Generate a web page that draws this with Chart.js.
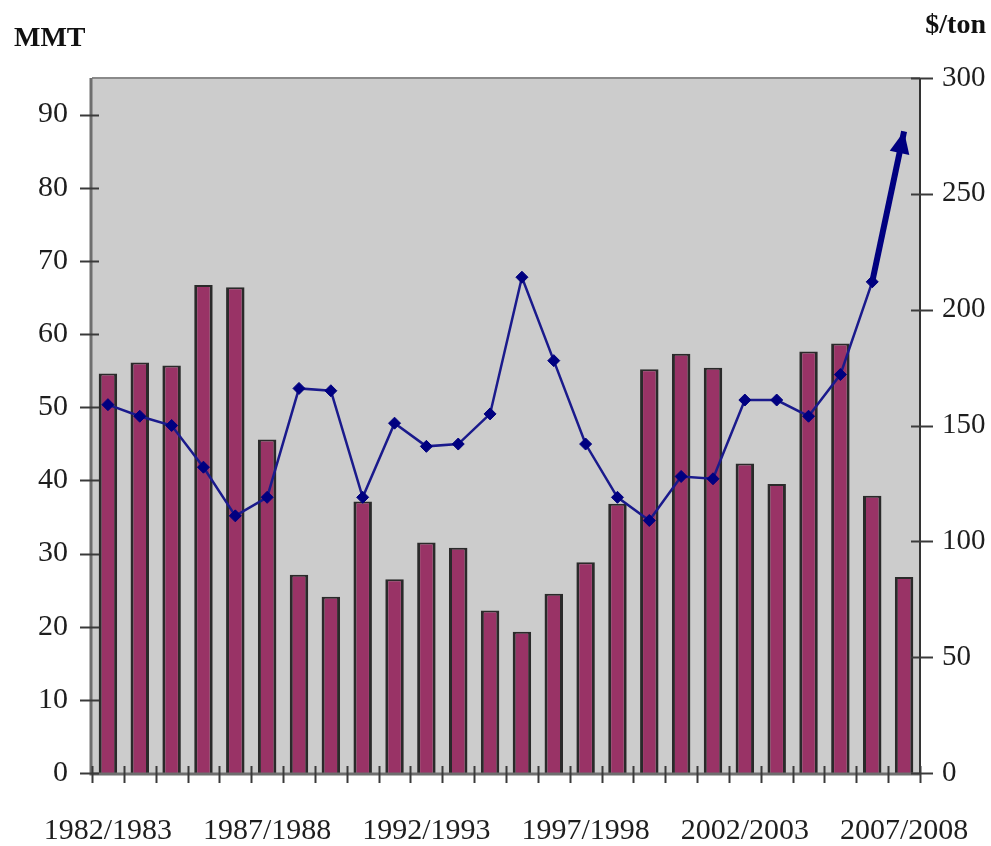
<!DOCTYPE html>
<html>
<head>
<meta charset="utf-8">
<script src="https://cdn.jsdelivr.net/npm/chart.js@4/dist/chart.umd.min.js"></script>
<style>
  html, body { margin: 0; padding: 0; background: #ffffff; }
  #wrap { width: 991px; height: 846px; position: relative; }
</style>
</head>
<body>
<div id="wrap"><canvas id="c" width="991" height="846"></canvas></div>
<script>
// Marketing seasons
const seasons = [
  '1982/1983', '1983/1984', '1984/1985', '1985/1986', '1986/1987',
  '1987/1988', '1988/1989', '1989/1990', '1990/1991', '1991/1992',
  '1992/1993', '1993/1994', '1994/1995', '1995/1996', '1996/1997',
  '1997/1998', '1998/1999', '1999/2000', '2000/2001', '2001/2002',
  '2002/2003', '2003/2004', '2004/2005', '2005/2006', '2006/2007',
  '2007/2008'
];

// Volume, million metric tons (left axis)
const volumeMMT = [
  54.6, 56.1, 55.7, 66.7, 66.4,
  45.6, 27.1, 24.1, 37.1, 26.5,
  31.5, 30.8, 22.2, 19.3, 24.5,
  28.8, 36.8, 55.2, 57.3, 55.4,
  42.3, 39.5, 57.6, 58.7, 37.9,
  26.8
];

// Price, $/ton (right axis)
const priceUSD = [
  159, 154, 150, 132, 111,
  119, 166, 165, 119, 151,
  141, 142, 155, 214, 178,
  142, 119, 109, 128, 127,
  161, 161, 154, 172, 212,
  277
];

// Seasons that carry a label on the category axis
const labelledSeasons = ['1982/1983', '1987/1988', '1992/1993', '1997/1998', '2002/2003', '2007/2008'];

const leftTitle = 'MMT';
const rightTitle = '$/ton';

const tickFont = { family: '"Liberation Serif", "Times New Roman", serif', size: 30 };
const tickColor = '#1e1e1e';
const navy = '#000080';
const lastIdx = priceUSD.length - 1;

// Grey plot background with Excel-style frame
const plotFrame = {
  id: 'plotFrame',
  beforeDatasetsDraw(chart) {
    const { ctx, chartArea: a } = chart;
    ctx.save();
    ctx.fillStyle = '#cccccc';
    ctx.fillRect(a.left, a.top, a.right - a.left, a.bottom - a.top);
    ctx.strokeStyle = '#8a8a8a';
    ctx.lineWidth = 2;
    ctx.beginPath();
    ctx.moveTo(a.left, a.top);
    ctx.lineTo(a.right, a.top);
    ctx.stroke();
    ctx.restore();
  },
  afterDatasetsDraw(chart) {
    const { ctx, chartArea: a, scales } = chart;
    ctx.save();
    // axis lines
    ctx.lineWidth = 3;
    ctx.strokeStyle = '#6e6e6e';
    ctx.beginPath();
    ctx.moveTo(a.left - 1, a.top);
    ctx.lineTo(a.left - 1, a.bottom + 1);
    ctx.lineTo(a.right, a.bottom + 1);
    ctx.stroke();
    ctx.lineWidth = 2;
    ctx.strokeStyle = '#333333';
    ctx.beginPath();
    ctx.moveTo(a.right, a.top);
    ctx.lineTo(a.right, a.bottom + 1);
    ctx.stroke();

    // cross tick marks on value axes
    ctx.lineWidth = 2;
    ctx.strokeStyle = '#3a3a3a';
    const yl = scales.yMmt;
    yl.ticks.forEach(t => {
      const y = Math.round(yl.getPixelForValue(t.value)) + 0.5;
      ctx.beginPath();
      ctx.moveTo(a.left - 12, y);
      ctx.lineTo(a.left + 7, y);
      ctx.stroke();
    });
    const yr = scales.yPrice;
    yr.ticks.forEach(t => {
      const y = Math.round(yr.getPixelForValue(t.value)) + 0.5;
      ctx.beginPath();
      ctx.moveTo(a.right - 9, y);
      ctx.lineTo(a.right + 13, y);
      ctx.stroke();
    });

    // cross tick marks at category boundaries
    const x = scales.x;
    const n = seasons.length;
    const step = x.getPixelForValue(1) - x.getPixelForValue(0);
    for (let i = 0; i <= n; i++) {
      const px = Math.round(x.getPixelForValue(0) - step / 2 + i * step) + 0.5;
      ctx.beginPath();
      ctx.moveTo(px, a.bottom - 7);
      ctx.lineTo(px, a.bottom + 10);
      ctx.stroke();
    }
    ctx.restore();
  }
};

// Arrowhead at the end of the price line
const priceArrow = {
  id: 'priceArrow',
  afterDatasetsDraw(chart) {
    const meta = chart.getDatasetMeta(0);
    const p1 = meta.data[lastIdx];
    const p0 = meta.data[lastIdx - 1];
    if (!p0 || !p1) return;
    const ang = Math.atan2(p1.y - p0.y, p1.x - p0.x);
    const len = 22, half = 10;
    const ctx = chart.ctx;
    ctx.save();
    ctx.translate(p1.x, p1.y);
    ctx.rotate(ang);
    ctx.fillStyle = navy;
    ctx.beginPath();
    ctx.moveTo(0, 0);
    ctx.lineTo(-len, -half);
    ctx.lineTo(-len, half);
    ctx.closePath();
    ctx.fill();
    ctx.restore();
  }
};

// Unit captions above the two value axes
const axisCaptions = {
  id: 'axisCaptions',
  afterDraw(chart) {
    const ctx = chart.ctx;
    ctx.save();
    ctx.fillStyle = '#111111';
    ctx.font = 'bold 28px "Liberation Serif", "Times New Roman", serif';
    ctx.textBaseline = 'alphabetic';
    ctx.textAlign = 'left';
    ctx.fillText(leftTitle, 14, 46);
    ctx.textAlign = 'right';
    ctx.fillText(rightTitle, 986, 33);
    ctx.restore();
  }
};

new Chart(document.getElementById('c'), {
  data: {
    labels: seasons,
    datasets: [
      {
        type: 'line',
        label: '$/ton',
        data: priceUSD,
        yAxisID: 'yPrice',
        borderColor: '#1a1a8c',
        borderWidth: 2.5,
        tension: 0,
        pointStyle: 'rectRot',
        pointRadius: priceUSD.map((v, i) => (i === lastIdx ? 0 : 6)),
        pointBackgroundColor: navy,
        pointBorderColor: navy,
        pointBorderWidth: 1,
        segment: {
          borderWidth: c => (c.p1DataIndex === lastIdx ? 6 : 2.5),
          borderColor: c => (c.p1DataIndex === lastIdx ? navy : '#1a1a8c')
        },
        order: 0
      },
      {
        type: 'bar',
        label: 'MMT',
        data: volumeMMT,
        yAxisID: 'yMmt',
        backgroundColor: '#993366',
        borderColor: '#2a2a2a',
        borderWidth: { left: 3, right: 3, top: 2, bottom: 0 },
        borderSkipped: false,
        barPercentage: 0.58,
        categoryPercentage: 1,
        order: 1
      }
    ]
  },
  options: {
    responsive: false,
    animation: false,
    layout: { padding: { top: 78, left: 0, right: 0, bottom: 0 } },
    plugins: {
      legend: { display: false },
      tooltip: { enabled: false },
      title: { display: false }
    },
    scales: {
      x: {
        offset: true,
        grid: { display: false, drawTicks: false },
        border: { display: false },
        ticks: {
          autoSkip: false,
          maxRotation: 0,
          minRotation: 0,
          padding: 40,
          font: tickFont,
          color: tickColor,
          callback(value) {
            const s = seasons[value];
            return labelledSeasons.includes(s) ? s : '';
          }
        },
        afterFit(s) {
          s.height = 73;
          s.paddingLeft = 0;
          s.paddingRight = 0;
        }
      },
      yMmt: {
        position: 'left',
        min: 0,
        max: 95,
        grid: { display: false, drawTicks: false },
        border: { display: false },
        ticks: { stepSize: 10, padding: 24, font: tickFont, color: tickColor },
        afterBuildTicks(s) { s.ticks = s.ticks.filter(t => t.value % 10 === 0); },
        afterFit(s) { s.width = 92; }
      },
      yPrice: {
        position: 'right',
        min: 0,
        max: 300,
        grid: { display: false, drawTicks: false },
        border: { display: false },
        ticks: { stepSize: 50, padding: 22, font: { family: tickFont.family, size: 29 }, color: tickColor },
        afterFit(s) { s.width = 71; }
      }
    }
  },
  plugins: [plotFrame, priceArrow, axisCaptions]
});
</script>
</body>
</html>
